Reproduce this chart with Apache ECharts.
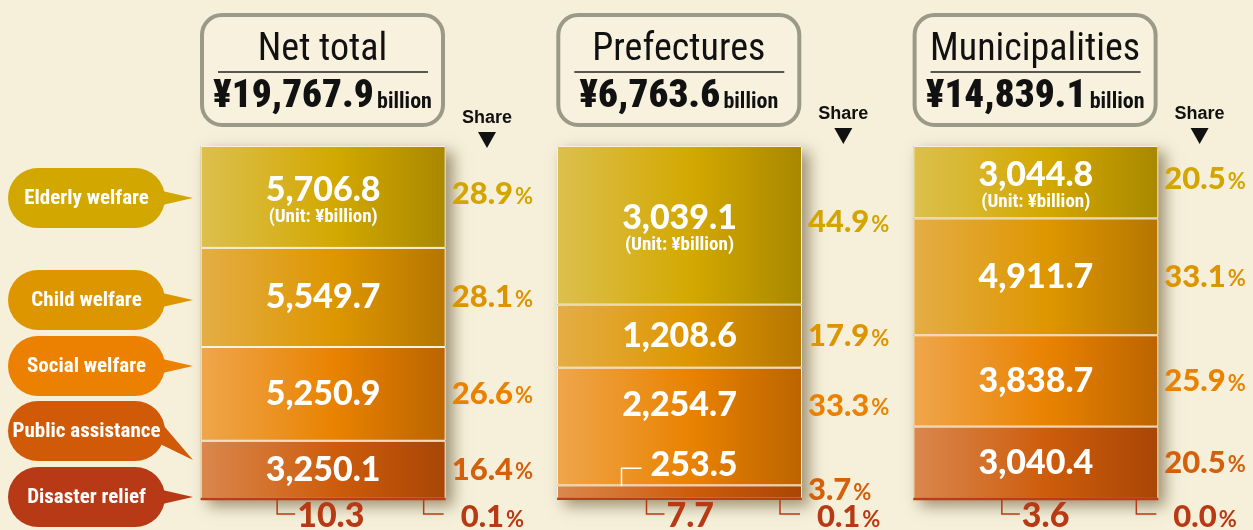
<!DOCTYPE html>
<html>
<head>
<meta charset="utf-8">
<script src="https://cdn.jsdelivr.net/npm/echarts@6/dist/echarts.min.js"></script>
<style>
html, body { margin: 0; padding: 0; background: #f6f0da; }
#main { width: 1253px; height: 530px; }
</style>
</head>
<body>
<div id="main"></div>
<script>
// columns of the chart
var columns = ['Net total', 'Prefectures', 'Municipalities'];
var columnTotals = ['19,767.9', '6,763.6', '14,839.1'];
var categories = ['Elderly welfare', 'Child welfare', 'Social welfare', 'Public assistance', 'Disaster relief'];

// values in ¥billion, one entry per column
var elderly = [5706.8, 3039.1, 3044.8];
var child = [5549.7, 1208.6, 4911.7];
var social = [5250.9, 2254.7, 3838.7];
var publicAssist = [3250.1, 253.5, 3040.4];
var disaster = [10.3, 7.7, 3.6];

// shares as printed (%)
var shareElderly = [28.9, 44.9, 20.5];
var shareChild = [28.1, 17.9, 33.1];
var shareSocial = [26.6, 33.3, 25.9];
var sharePublic = [16.4, 3.7, 20.5];
var shareDisaster = [0.1, 0.1, 0.0];

var seriesValues = [elderly, child, social, publicAssist, disaster];
var shares = [shareElderly, shareChild, shareSocial, sharePublic, shareDisaster];

// look
var BAR_W = 245;
var NUM_FONT = 'Lato, "DejaVu Sans", sans-serif';
var COND_FONT = '"Liberation Sans Narrow", "Roboto Condensed", Roboto, sans-serif';
var segColors = [
	['#dcc04e', '#d3a800', '#a88800'],
	['#e4ae46', '#de9600', '#b57600'],
	['#efa64c', '#e98200', '#bb6400'],
	['#da874e', '#cd5c0b', '#a84606'],
	['#c8542c', '#b83a14', '#a8300e']
];
var shareColors = ['#d3a500', '#dc9400', '#e98200', '#d2600c', '#b83a14'];
var bubbleColors = ['#d2a700', '#de9600', '#ec8000', '#d05a08', '#b73916'];
var bubbleY = [198, 300, 366, 431, 497];
var belowOffset = [-46, -33, -34];

var colSums = columns.map(function (n, c) {
	return seriesValues.reduce(function (s, arr) { return s + arr[c]; }, 0);
});
function pctOf(k, c) { return seriesValues[k][c] / colSums[c] * 100; }
function fmt(v) { return v.toLocaleString('en-US', { minimumFractionDigits: 1, maximumFractionDigits: 1 }); }

var chart = echarts.init(document.getElementById('main'));

//堆叠的柱子
var barSeries = categories.map(function (name, k) {
	var thin = k === categories.length - 1;
	return {
		name: name,
		type: 'bar',
		stack: 'total',
		barWidth: BAR_W,
		barGap: '-100%',
		z: 3,
		silent: true,
		data: seriesValues[k].map(function (v, c) { return pctOf(k, c); }),
		itemStyle: {
			color: new echarts.graphic.LinearGradient(0, 0, 1, 0, [
				{ offset: 0, color: segColors[k][0] },
				{ offset: 0.55, color: segColors[k][1] },
				{ offset: 1, color: segColors[k][2] }
			]),
			// 灾害救助太细，用描边画出来
			borderColor: thin ? '#bb3c16' : '#f7f1e2',
			borderWidth: thin ? 2.5 : 1
		}
	};
});

function bracket(x, y0, x1, y1, color) {
	return {
		type: 'polyline',
		shape: { points: [[x, y0], [x, y1], [x1, y1]] },
		style: { stroke: color, lineWidth: 1.5, fill: null }
	};
}
function valueText(str, x, y, align, color) {
	return {
		type: 'text', x: x, y: y,
		style: { text: str, align: align, verticalAlign: 'middle', fill: color, fontSize: 34, fontWeight: 900, fontFamily: NUM_FONT }
	};
}
function shareText(val, x, y, color) {
	return {
		type: 'text', x: x, y: y,
		style: {
			text: '{n|' + val.toFixed(1) + '}{p|%}', align: 'left', verticalAlign: 'middle',
			rich: {
				n: { fontSize: 31, fontWeight: 900, fontFamily: NUM_FONT, fill: color, verticalAlign: 'bottom' },
				p: { fontSize: 22, fontWeight: 700, fontFamily: NUM_FONT, fill: color, verticalAlign: 'bottom', padding: [0, 0, 2, 2] }
			}
		}
	};
}

//柱子上的数值和占比
function renderLabels(params, api) {
	var c = params.dataIndex;
	var cx = api.coord([c, 0])[0];
	var right = cx + BAR_W / 2;
	var yBottom = api.coord([c, 100])[1];
	var kids = [];
	var cum = 0;
	var spans = seriesValues.map(function (arr, k) {
		var p = pctOf(k, c);
		var s = { y0: api.coord([c, cum])[1], y1: api.coord([c, cum + p])[1] };
		cum += p;
		return s;
	});
	var last = spans.length - 1;
	spans.forEach(function (s, k) {
		var h = s.y1 - s.y0;
		var small = k < last && h < 30;
		var nextSmall = k + 1 < last && spans[k + 1].y1 - spans[k + 1].y0 < 30;
		var mid = (s.y0 + s.y1) / 2 + (nextSmall ? -21 : 0);
		var str = fmt(seriesValues[k][c]);
		if (k === last) {
			var bx = cx + belowOffset[c];
			kids.push(bracket(bx, yBottom, bx + 18, yBottom + 15, shareColors[k]));
			kids.push(valueText(str, bx + 20, yBottom + 17, 'left', shareColors[k]));
			kids.push(bracket(right - 22, yBottom, right - 2, yBottom + 15, shareColors[k]));
			kids.push(shareText(shares[k][c], right + 15, yBottom + 18, shareColors[k]));
		} else if (small) {
			kids.push(bracket(cx - 58, s.y0 + 1, cx - 38, s.y0 - 17, '#ffffff'));
			kids.push(valueText(str, cx - 29, s.y0 - 20, 'left', '#ffffff'));
			kids.push(shareText(shares[k][c], right + 6, mid - 2, shareColors[k]));
		} else if (k === 0) {
			kids.push(valueText(str, cx, mid - 7, 'center', '#ffffff'));
			kids.push({
				type: 'text', x: cx, y: mid + 20,
				style: { text: '(Unit: ¥billion)', align: 'center', verticalAlign: 'middle', fill: '#ffffff', fontSize: 19, fontWeight: 'bold', fontFamily: COND_FONT }
			});
			kids.push(shareText(shares[k][c], right + 6, mid - 3, shareColors[k]));
		} else {
			kids.push(valueText(str, cx, mid, 'center', '#ffffff'));
			kids.push(shareText(shares[k][c], right + 6, mid, shareColors[k]));
		}
	});
	return { type: 'group', children: kids };
}

//柱子的阴影
function renderBackdrop(params, api) {
	var c = params.dataIndex;
	var top = api.coord([c, 0]);
	var bot = api.coord([c, 100]);
	return {
		type: 'rect',
		shape: { x: top[0] - BAR_W / 2, y: top[1], width: BAR_W, height: bot[1] - top[1] + 1 },
		style: { fill: '#c08a30', shadowBlur: 14, shadowOffsetX: 7, shadowOffsetY: 6, shadowColor: 'rgba(70,50,10,0.5)' }
	};
}

// header boxes, share marks, bubbles
var graphics = [];
columns.forEach(function (name, c) {
	var bx = 202 + c * 356.3;
	graphics.push({
		type: 'group', x: bx, y: 15, silent: true,
		children: [
			{ type: 'rect', shape: { x: 0, y: 0, width: 241, height: 110, r: 20 }, style: { fill: '#f7f1de', stroke: '#9b9a86', lineWidth: 4 } },
			{ type: 'text', x: 120.5, y: 35, style: { text: name, align: 'center', verticalAlign: 'middle', fill: '#111', fontSize: 38, fontFamily: COND_FONT } },
			{ type: 'line', shape: { x1: 16, y1: 57, x2: 226, y2: 57 }, style: { stroke: '#222', lineWidth: 1.5 } },
			{ type: 'text', x: 120.5, y: 82, style: {
				text: '{a|¥' + columnTotals[c] + '} {b|billion}', align: 'center', verticalAlign: 'middle',
				rich: {
					a: { fontSize: 39, fontWeight: 900, fontFamily: COND_FONT, fill: '#111', verticalAlign: 'bottom' },
					b: { fontSize: 22, fontWeight: 'bold', fontFamily: COND_FONT, fill: '#111', verticalAlign: 'bottom', padding: [0, 0, 3, 0] }
				}
			} }
		]
	});
	var sy = c === 0 ? 118 : 114;
	graphics.push({
		type: 'text', x: bx + 285, y: sy, silent: true,
		style: { text: 'Share', align: 'center', verticalAlign: 'middle', fill: '#111', fontSize: 18, fontWeight: 'bold', fontFamily: '"Liberation Sans", Arial, sans-serif' }
	});
	graphics.push({
		type: 'polygon', silent: true,
		shape: { points: [[bx + 276, sy + 14], [bx + 294, sy + 14], [bx + 285, sy + 30]] },
		style: { fill: '#111' }
	});
});
categories.forEach(function (name, k) {
	var y = bubbleY[k];
	var tail = k === 3 ? [[150, -12], [193 - 8, 29], [150, 12]] : [[150, -8], [193 - 8, 0], [150, 8]];
	graphics.push({
		type: 'group', x: 8, y: y, silent: true,
		children: [
			{ type: 'polygon', shape: { points: tail }, style: { fill: bubbleColors[k] } },
			{ type: 'rect', shape: { x: 0, y: -30, width: 157, height: 60, r: 30 }, style: { fill: bubbleColors[k] } },
			{ type: 'text', x: 78.5, y: 1, style: { text: name, align: 'center', verticalAlign: 'middle', fill: '#fff', fontSize: 21, fontWeight: 'bold', fontFamily: COND_FONT } }
		]
	});
});

var option = {
	backgroundColor: '#f6f0da',
	animation: false,
	grid: { left: 145, right: 39, top: 146, bottom: 31 },
	xAxis: { type: 'category', data: columns, show: false },
	yAxis: { type: 'value', min: 0, max: 100, inverse: true, show: false },
	graphic: graphics,
	series: [
		{
			type: 'custom', z: 1, silent: true,
			data: columns.map(function (n, c) { return [c, 100]; }),
			encode: { x: 0, y: 1 },
			renderItem: renderBackdrop
		}
	].concat(barSeries).concat([
		{
			type: 'custom', z: 6, silent: true,
			data: columns.map(function (n, c) { return [c, 100]; }),
			encode: { x: 0, y: 1 },
			renderItem: renderLabels
		}
	])
};
chart.setOption(option);
</script>
</body>
</html>
